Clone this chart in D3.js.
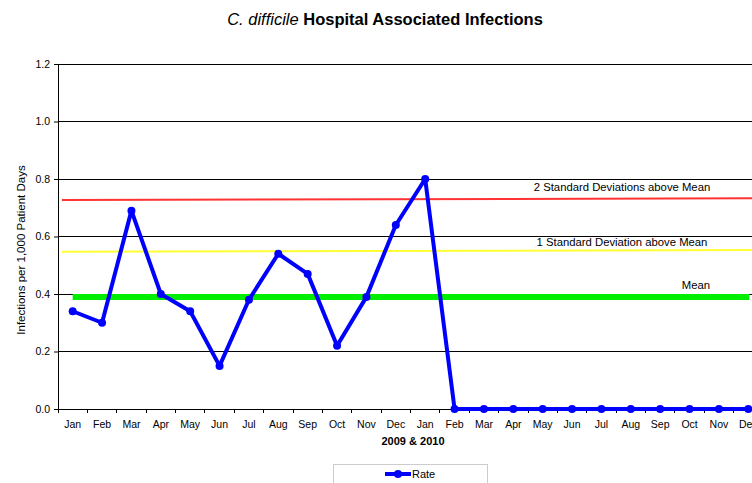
<!DOCTYPE html>
<html><head><meta charset="utf-8">
<script src="https://cdn.jsdelivr.net/npm/d3@7"></script>
<style>body{margin:0;background:#fff;}svg{display:block;font-family:"Liberation Sans",Arial,sans-serif;}</style>
</head><body>
<script>
const months = ["Jan","Feb","Mar","Apr","May","Jun","Jul","Aug","Sep","Oct","Nov","Dec","Jan","Feb","Mar","Apr","May","Jun","Jul","Aug","Sep","Oct","Nov","Dec"];
const rate = [0.34,0.30,0.69,0.40,0.34,0.15,0.38,0.54,0.47,0.22,0.39,0.64,0.80,0,0,0,0,0,0,0,0,0,0,0];
const yTicks = [0,0.2,0.4,0.6,0.8,1.0,1.2];
const sd2 = [0.727,0.733];
const sd1 = [0.547,0.553];
const meanVal = 0.39;

const W=752,H=483;
const svg=d3.select("body").append("svg").attr("width",W).attr("height",H);
const L=58, R=763, T=64, B=409;
const x=d3.scaleBand().domain(d3.range(months.length)).range([L,R]).padding(0);
const cx=i=>x(i)+x.bandwidth()/2;
const y=d3.scaleLinear().domain([0,1.2]).range([B,T]);

// gridlines
svg.append("g").selectAll("line").data(yTicks.filter(d=>d>0)).join("line")
  .attr("x1",L).attr("x2",W).attr("y1",d=>y(d)).attr("y2",d=>y(d))
  .attr("stroke","#000").attr("stroke-width",1).attr("shape-rendering","crispEdges");

// y axis
const ya=svg.append("g").attr("transform",`translate(${L},0)`)
  .call(d3.axisLeft(y).tickValues(yTicks).tickFormat(d3.format(".1f")).tickSize(4).tickPadding(4));
ya.select(".domain").attr("stroke","#000");
ya.selectAll("text").attr("font-size",10.5).attr("fill","#000").attr("font-family","Liberation Sans, Arial");
ya.selectAll("line").attr("stroke","#000");

// x axis
const xa=svg.append("g").attr("transform",`translate(0,${B})`);
xa.append("line").attr("x1",L).attr("x2",W).attr("stroke","#000").attr("shape-rendering","crispEdges");
xa.selectAll("line.t").data(d3.range(months.length)).join("line").attr("class","t")
  .attr("x1",i=>x(i)).attr("x2",i=>x(i))
  .attr("y1",0).attr("y2",4).attr("stroke","#000").attr("shape-rendering","crispEdges");
xa.selectAll("text").data(months).join("text")
  .attr("x",(d,i)=>cx(i)).attr("y",19).attr("text-anchor","middle").attr("font-size",10.5).text(d=>d);

// reference lines
const refx=d3.scaleLinear().domain([0,1]).range([62,R]);
svg.append("line").attr("x1",refx(0)).attr("x2",refx(1)).attr("y1",y(sd2[0])).attr("y2",y(sd2[1]))
  .attr("stroke","#ff3333").attr("stroke-width",2);
svg.append("line").attr("x1",refx(0)).attr("x2",refx(1)).attr("y1",y(sd1[0])).attr("y2",y(sd1[1]))
  .attr("stroke","#ffff33").attr("stroke-width",2);
svg.append("line").attr("x1",cx(0)).attr("x2",cx(months.length-1)+1).attr("y1",y(meanVal)).attr("y2",y(meanVal))
  .attr("stroke","#00ee00").attr("stroke-width",6);

svg.append("text").attr("x",622).attr("y",191).attr("text-anchor","middle").attr("font-size",11.3).text("2 Standard Deviations above Mean");
svg.append("text").attr("x",622).attr("y",246).attr("text-anchor","middle").attr("font-size",11.3).text("1 Standard Deviation above Mean");
svg.append("text").attr("x",696).attr("y",289).attr("text-anchor","middle").attr("font-size",11.3).text("Mean");

// rate line
const line=d3.line().x((d,i)=>cx(i)).y(d=>y(d));
svg.append("path").datum(rate).attr("d",line).attr("fill","none").attr("stroke","#0000ff").attr("stroke-width",4).attr("stroke-linejoin","round");
svg.append("g").selectAll("circle").data(rate).join("circle")
  .attr("cx",(d,i)=>cx(i)).attr("cy",d=>y(d)).attr("r",4).attr("fill","#0000ff");

// titles
const t=svg.append("text").attr("x",385).attr("y",25).attr("text-anchor","middle").attr("font-size",16.5).attr("font-weight","bold");
t.append("tspan").attr("font-style","italic").attr("font-weight","normal").text("C. difficile");
t.append("tspan").text(" Hospital Associated Infections");
svg.append("text").attr("transform",`translate(25,250) rotate(-90)`).attr("text-anchor","middle")
  .attr("font-size",11.5).text("Infections per 1,000 Patient Days");
svg.append("text").attr("x",413).attr("y",445).attr("text-anchor","middle").attr("font-size",11).attr("font-weight","bold").text("2009 & 2010");

// legend
const lg=svg.append("g");
lg.append("rect").attr("x",333.5).attr("y",464.5).attr("width",154).attr("height",30).attr("fill","#fff").attr("stroke","#ccc");
lg.append("line").attr("x1",385).attr("x2",411).attr("y1",474).attr("y2",474).attr("stroke","#0000ff").attr("stroke-width",4);
lg.append("circle").attr("cx",398).attr("cy",474).attr("r",4).attr("fill","#0000ff");
lg.append("text").attr("x",412).attr("y",478).attr("font-size",11).text("Rate");
</script>
</body></html>
